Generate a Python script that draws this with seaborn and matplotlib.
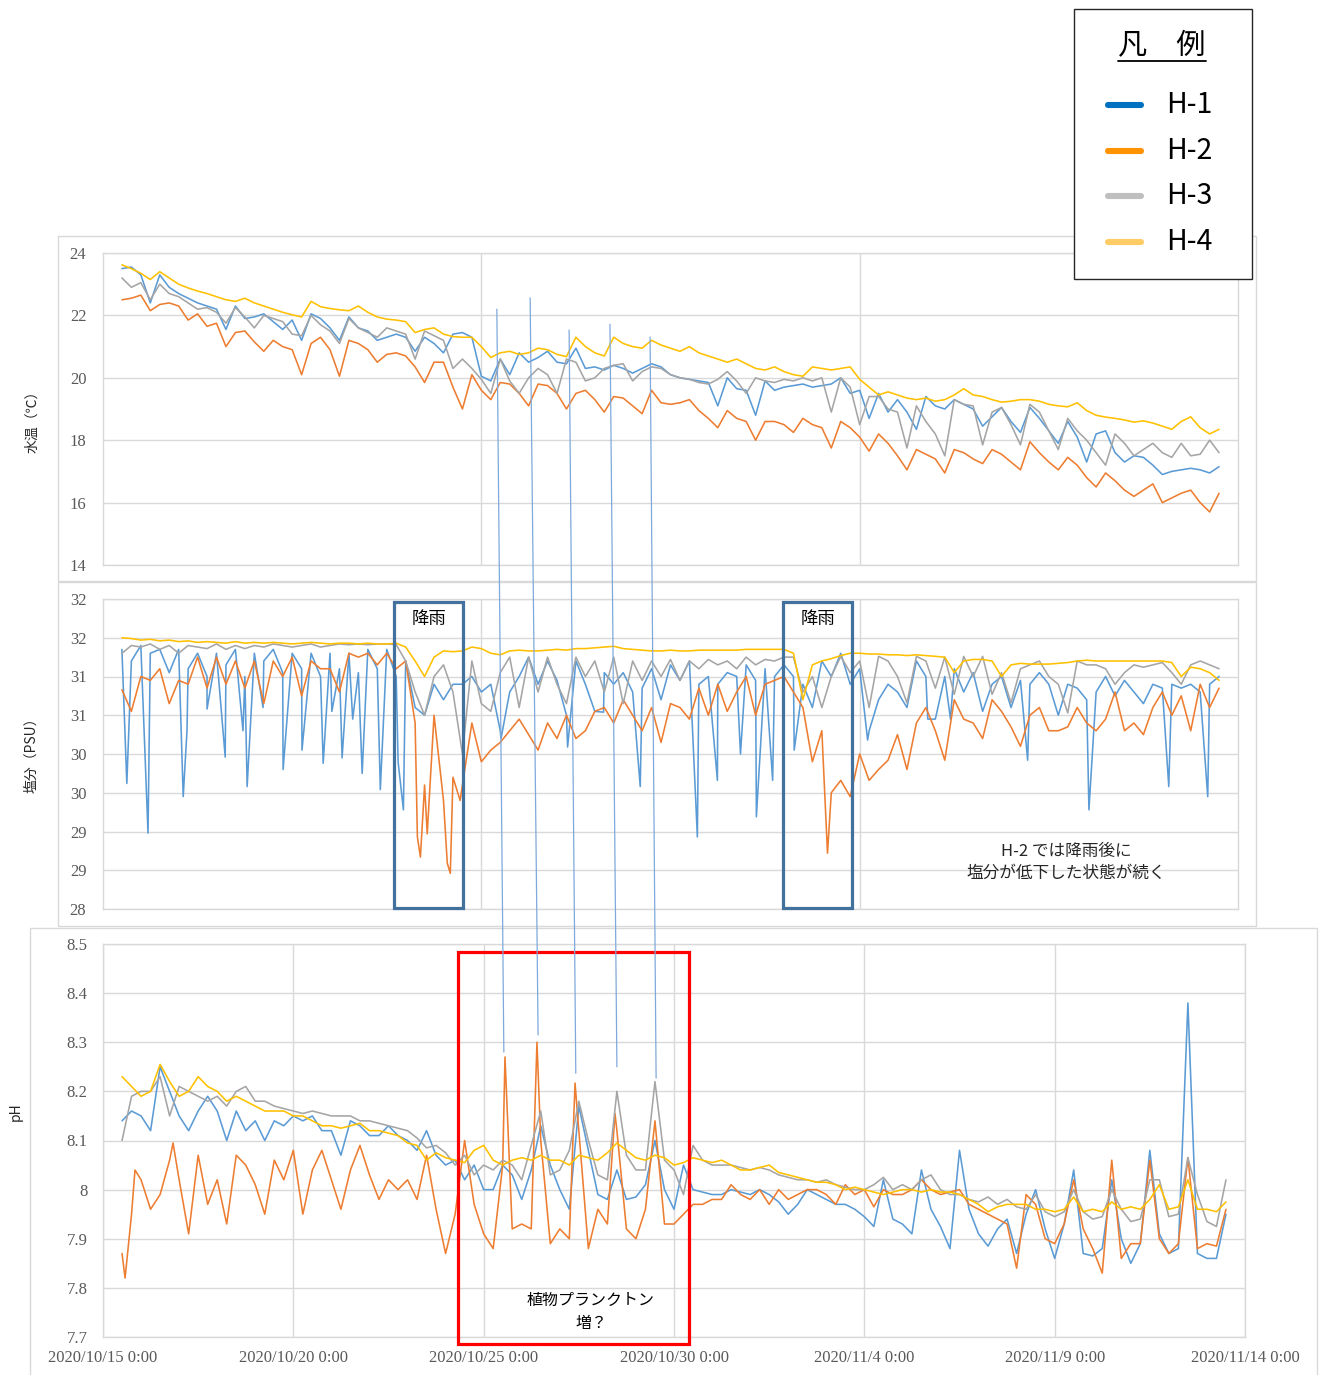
import numpy as np
import pandas as pd
import matplotlib
matplotlib.use("Agg")
import matplotlib.pyplot as plt
from matplotlib.patches import Rectangle, ConnectionPatch
from matplotlib.lines import Line2D
import seaborn as sns

# ---------------------------------------------------------------------------
# Continuous monitoring at stations H-1 .. H-4
# time axis: days since 2020/10/15 0:00, one reading every 6 hours
# (each row below = one day: +0.5, +0.75, +1.0, +1.25 d)
# ---------------------------------------------------------------------------
stations = ["H-1", "H-2", "H-3", "H-4"]
t_first, t_last, t_step = 0.5, 29.5, 0.25

temp_h1 = [23.5, 23.55, 23.3, 22.4,
           23.3, 22.9, 22.7, 22.55,
           22.4, 22.3, 22.2, 21.55,
           22.3, 21.9, 21.95, 22.05,
           21.8, 21.55, 21.85, 21.2,
           22.05, 21.9, 21.6, 21.2,
           21.95, 21.6, 21.5, 21.2,
           21.3, 21.4, 21.3, 20.85,
           21.3, 21.1, 20.8, 21.4,
           21.45, 21.3, 20.05, 19.9,
           20.6, 20.1, 20.8, 20.5,
           20.65, 20.85, 20.5, 20.45,
           20.95, 20.3, 20.35, 20.25,
           20.4, 20.3, 20.15, 20.3,
           20.45, 20.35, 20.1, 20.0,
           19.95, 19.9, 19.85, 19.1,
           20.0, 19.65, 19.6, 18.8,
           19.9, 19.6, 19.7, 19.75,
           19.8, 19.7, 19.75, 19.8,
           20.0, 19.5, 19.6, 18.7,
           19.5, 18.9, 19.3, 18.9,
           18.35, 19.4, 19.1, 19.0,
           19.3, 19.15, 19.0, 18.45,
           18.75, 19.05, 18.6, 18.25,
           19.05, 18.7, 18.3, 17.9,
           18.6, 18.1, 17.3, 18.2,
           18.3, 17.6, 17.3, 17.5,
           17.45, 17.2, 16.9, 17.0,
           17.05, 17.1, 17.05, 16.95,
           17.15]
temp_h2 = [22.5, 22.55, 22.65, 22.15,
           22.35, 22.4, 22.3, 21.85,
           22.05, 21.65, 21.75, 21.0,
           21.45, 21.5, 21.15, 20.85,
           21.2, 21.0, 20.9, 20.1,
           21.1, 21.3, 20.9, 20.05,
           21.2, 21.1, 20.9, 20.5,
           20.75, 20.8, 20.7, 20.35,
           19.85, 20.5, 20.5, 19.7,
           19.0, 20.1, 19.6, 19.3,
           19.85, 19.8, 19.5, 19.1,
           19.8, 19.75, 19.5, 19.0,
           19.5, 19.6, 19.3, 18.9,
           19.4, 19.35, 19.1, 18.85,
           19.6, 19.2, 19.15, 19.2,
           19.3, 18.95, 18.7, 18.4,
           18.95, 18.7, 18.6, 18.0,
           18.6, 18.6, 18.5, 18.25,
           18.7, 18.5, 18.4, 17.75,
           18.6, 18.4, 18.1, 17.65,
           18.2, 17.9, 17.5, 17.05,
           17.7, 17.55, 17.4, 16.95,
           17.7, 17.6, 17.4, 17.25,
           17.7, 17.55, 17.3, 17.05,
           17.95, 17.6, 17.3, 17.05,
           17.45, 17.2, 16.8, 16.5,
           16.95, 16.7, 16.4, 16.2,
           16.4, 16.6, 16.0, 16.15,
           16.3, 16.4, 16.0, 15.7,
           16.3]
temp_h3 = [23.2, 22.9, 23.05, 22.5,
           23.0, 22.7, 22.6, 22.4,
           22.2, 22.25, 22.1, 21.75,
           22.25, 21.95, 21.6, 22.0,
           21.9, 21.8, 21.4, 21.35,
           22.0, 21.7, 21.5, 21.1,
           21.9, 21.6, 21.45, 21.3,
           21.6, 21.5, 21.4, 20.6,
           21.5, 21.35, 21.2, 20.3,
           20.6, 20.3, 19.95, 19.5,
           20.6, 19.9, 19.5, 20.0,
           20.3, 20.1, 19.5, 20.6,
           20.5, 19.9, 20.0, 20.3,
           20.4, 20.45, 19.9, 20.2,
           20.35, 20.3, 20.1, 20.0,
           19.95, 19.85, 19.8, 19.95,
           20.2, 19.9, 19.5, 20.0,
           19.9, 19.85, 19.95, 19.9,
           20.0, 19.9, 20.0, 18.9,
           20.0, 19.7, 18.5, 19.4,
           19.4, 19.0, 18.9, 17.75,
           19.1, 18.6, 18.2, 17.5,
           19.3, 19.15, 19.1, 17.85,
           18.9, 19.05, 18.5, 17.85,
           19.15, 18.9, 18.3, 17.7,
           18.7, 18.3, 18.0, 17.6,
           17.2, 18.2, 17.9, 17.5,
           17.7, 17.9, 17.6, 17.45,
           17.9, 17.5, 17.55, 18.0,
           17.6]
temp_h4 = [23.62, 23.5, 23.35, 23.15,
           23.4, 23.2, 23.0, 22.88,
           22.78, 22.7, 22.6, 22.5,
           22.45, 22.55, 22.4, 22.3,
           22.2, 22.1, 22.02, 21.95,
           22.45, 22.28, 22.22, 22.18,
           22.15, 22.3, 22.1, 21.95,
           21.88, 21.85, 21.8, 21.45,
           21.55, 21.6, 21.4, 21.32,
           21.3, 21.3, 21.0, 20.65,
           20.8, 20.85, 20.75, 20.8,
           20.95, 20.9, 20.75, 20.68,
           21.3, 21.0, 20.8, 20.7,
           21.3, 21.1, 21.0, 20.95,
           21.2, 21.05, 20.95, 20.85,
           21.0, 20.8, 20.7, 20.6,
           20.5, 20.6, 20.45, 20.3,
           20.25, 20.35, 20.2, 20.1,
           20.05, 20.35, 20.3, 20.25,
           20.3, 20.35, 19.95, 19.7,
           19.45, 19.55, 19.45, 19.35,
           19.3, 19.35, 19.25, 19.3,
           19.45, 19.65, 19.45, 19.4,
           19.3, 19.22, 19.25, 19.3,
           19.3, 19.25, 19.15, 19.1,
           19.07, 19.2, 18.95, 18.8,
           18.74, 18.7, 18.65, 18.58,
           18.62, 18.55, 18.45, 18.35,
           18.6, 18.75, 18.4, 18.2,
           18.35]

sal_h1 = [31.35, 31.2, 31.4, 31.3,
          31.35, 31.05, 31.35, 31.1,
          31.3, 31.0, 31.3, 31.15,
          31.35, 31.0, 31.3, 31.2,
          31.35, 31.05, 31.3, 31.1,
          31.3, 31.0, 31.3, 31.1,
          31.3, 31.05, 31.35, 31.1,
          31.35, 31.0, 31.2, 30.6,
          30.5, 30.9, 30.7, 30.9,
          30.9, 31.0, 30.8, 30.9,
          30.3, 30.8, 31.0, 31.25,
          30.9, 31.2, 30.95, 30.5,
          31.2, 30.9, 30.55, 31.05,
          30.9, 31.05, 30.8, 30.85,
          31.1, 30.7, 31.15, 30.95,
          31.2, 30.9, 31.0, 30.9,
          31.05, 31.0, 31.15, 30.95,
          31.1, 31.0, 31.15, 31.0,
          30.9, 30.6, 31.2, 31.0,
          31.3, 30.9, 31.1, 30.3,
          30.7, 30.9, 30.8, 30.6,
          31.2, 31.0, 30.45, 31.0,
          31.1, 30.8, 31.05, 30.55,
          30.9, 31.0, 30.6, 30.95,
          30.9, 31.05, 30.9, 30.5,
          30.9, 30.85, 30.7, 30.8,
          31.0, 30.75, 30.95, 30.8,
          30.65, 30.9, 30.85, 30.9,
          30.85, 30.9, 30.8, 30.9,
          31.0]
# short salinity drops recorded between the 6-hourly readings
sal_h1_drop_t = [0.63, 1.19, 2.12, 2.22, 2.75, 3.23, 3.7, 3.81, 4.23, 4.76,
                 5.26, 5.82, 6.05, 6.32, 6.6, 6.85, 7.33, 7.8, 7.94, 10.52,
                 12.28, 13.23, 14.2, 15.71, 16.24, 16.85, 17.27, 17.7, 18.27,
                 20.21, 21.8, 22.4, 24.44, 26.06, 28.17, 29.2]
sal_h1_drop_v = [29.62, 28.98, 29.45, 30.3, 30.58, 29.96, 30.3, 29.58, 30.6, 29.8,
                 30.05, 29.88, 30.55, 29.95, 30.45, 29.75, 29.54, 29.9, 29.28, 30.2,
                 30.09, 30.54, 29.58, 28.93, 29.66, 30.0, 29.19, 29.66, 30.05,
                 30.18, 30.45, 30.45, 29.92, 29.28, 29.58, 29.45]

sal_h2 = [30.83, 30.55, 31.0, 30.95,
          31.1, 30.65, 30.95, 30.9,
          31.25, 30.85, 31.25, 30.9,
          31.2, 30.85, 31.2, 30.65,
          31.2, 31.0, 31.25, 30.75,
          31.2, 31.1, 31.1, 30.8,
          31.3, 31.25, 31.3, 31.15,
          31.3, 31.1, 31.2, 30.4,
          29.6, 30.5, 29.4, 29.7,
          29.6, 30.4, 29.9, 30.05,
          30.15, 30.3, 30.45, 30.25,
          30.05, 30.4, 30.2, 30.5,
          30.2, 30.3, 30.55, 30.6,
          30.4, 30.7, 30.5, 30.3,
          30.6, 30.15, 30.65, 30.6,
          30.45, 30.85, 30.5, 30.9,
          30.55, 30.8, 31.0, 30.5,
          30.9, 30.95, 31.0, 30.8,
          30.6, 29.9, 30.3, 29.5,
          29.66, 29.45, 30.0, 29.66,
          29.8, 29.92, 30.25, 29.8,
          30.4, 30.6, 30.3, 29.92,
          30.7, 30.45, 30.4, 30.2,
          30.7, 30.55, 30.35, 30.1,
          30.5, 30.6, 30.3, 30.3,
          30.35, 30.6, 30.4, 30.3,
          30.45, 30.8, 30.3, 30.4,
          30.25, 30.6, 30.8, 30.5,
          30.75, 30.3, 30.9, 30.6,
          30.85]
sal_h2_drop_t = [8.31, 8.39, 8.57, 9.1, 9.18, 9.44, 19.15]
sal_h2_drop_v = [28.93, 28.67, 28.97, 28.59, 28.46, 29.4, 28.72]

sal_h3 = [31.3, 31.4, 31.38, 31.42,
          31.35, 31.4, 31.3, 31.4,
          31.38, 31.36, 31.42, 31.35,
          31.4, 31.36, 31.4, 31.38,
          31.42, 31.4, 31.38, 31.4,
          31.42, 31.38, 31.4, 31.42,
          31.41, 31.42, 31.41, 31.42,
          31.42, 31.41, 31.2, 30.8,
          30.5, 31.0, 31.15, 30.8,
          30.0, 31.2, 30.65, 30.55,
          31.05, 31.25, 30.6, 31.25,
          30.8, 31.25, 30.9, 30.65,
          31.25, 31.0, 31.2, 30.8,
          31.25, 30.65, 31.2, 30.95,
          31.2, 31.0, 31.22, 30.95,
          31.2, 31.1, 31.22, 31.15,
          31.2, 31.1, 31.25, 31.15,
          31.22, 31.2, 31.25, 31.25,
          30.8, 31.0, 30.6, 31.0,
          31.26, 31.05, 31.2, 30.6,
          31.26, 31.2, 31.0, 30.66,
          31.26, 31.2, 30.85, 31.25,
          30.77, 31.26, 31.0, 31.26,
          30.77, 31.05, 30.66, 31.1,
          31.15, 31.2, 31.0, 30.9,
          30.53, 31.2, 31.15, 31.15,
          31.1, 30.9, 31.05, 31.15,
          31.12, 31.15, 31.18, 31.05,
          30.9, 31.15, 31.2, 31.15,
          31.1]
sal_h4 = [31.5, 31.49, 31.47, 31.48,
          31.46, 31.47, 31.45, 31.46,
          31.44, 31.45, 31.44, 31.43,
          31.45, 31.43, 31.44, 31.43,
          31.44, 31.43, 31.42, 31.43,
          31.44, 31.43, 31.42, 31.43,
          31.43, 31.42, 31.43, 31.42,
          31.42, 31.43, 31.38, 31.2,
          31.0, 31.25, 31.33, 31.32,
          31.33, 31.38, 31.36, 31.3,
          31.28, 31.33, 31.34, 31.33,
          31.33, 31.34, 31.35, 31.34,
          31.36, 31.36, 31.37, 31.38,
          31.39, 31.36, 31.35, 31.34,
          31.33, 31.33, 31.34, 31.33,
          31.33, 31.34, 31.34, 31.34,
          31.34, 31.34, 31.35, 31.35,
          31.35, 31.35, 31.35, 31.3,
          30.7, 31.15, 31.2, 31.23,
          31.27, 31.3, 31.3, 31.29,
          31.29, 31.28, 31.28, 31.27,
          31.28, 31.27, 31.26, 31.25,
          31.05, 31.2, 31.22, 31.22,
          31.2, 31.0, 31.15, 31.17,
          31.16, 31.16, 31.16, 31.17,
          31.18, 31.2, 31.21, 31.2,
          31.2, 31.2, 31.2, 31.2,
          31.2, 31.2, 31.2, 31.18,
          31.0, 31.12, 31.1, 31.05,
          30.95]

ph_h1 = [8.14, 8.16, 8.15, 8.12,
         8.25, 8.2, 8.15, 8.12,
         8.16, 8.19, 8.16, 8.1,
         8.16, 8.12, 8.14, 8.1,
         8.14, 8.13, 8.15, 8.14,
         8.15, 8.12, 8.12, 8.07,
         8.14, 8.13, 8.11, 8.11,
         8.13, 8.11, 8.1, 8.08,
         8.12, 8.07, 8.05, 8.06,
         8.02, 8.05, 8.0, 8.0,
         8.05, 8.03, 7.98, 8.04,
         8.13, 8.05, 8.0, 7.96,
         8.17, 8.08, 7.99, 7.98,
         8.04, 7.98, 7.985, 8.01,
         8.1, 8.0, 7.96, 8.05,
         8.0, 7.995, 7.99, 7.99,
         8.0, 7.995, 7.99, 8.0,
         7.99, 7.975, 7.95, 7.97,
         8.0, 7.99, 7.98, 7.97,
         7.97, 7.96, 7.945, 7.925,
         8.02, 7.94, 7.93, 7.91,
         8.04, 7.96, 7.925, 7.88,
         8.08, 7.96, 7.91, 7.885,
         7.92, 7.94, 7.87, 7.95,
         8.0, 7.92, 7.86, 7.93,
         8.04, 7.87, 7.865, 7.88,
         8.02, 7.9, 7.85, 7.89,
         8.08, 7.91, 7.87, 7.88,
         8.38, 7.87, 7.86, 7.86,
         7.95]
ph_h2 = [7.87, 7.95, 8.02, 7.96,
         7.99, 8.06, 8.02, 7.91,
         8.07, 7.97, 8.02, 7.93,
         8.07, 8.05, 8.01, 7.95,
         8.06, 8.02, 8.08, 7.95,
         8.04, 8.08, 8.02, 7.96,
         8.04, 8.09, 8.03, 7.98,
         8.02, 8.0, 8.02, 7.98,
         8.07, 7.96, 7.87, 7.95,
         8.1, 7.97, 7.91, 7.88,
         8.05, 7.92, 7.93, 7.92,
         8.1, 7.89, 7.92, 7.9,
         8.12, 7.88, 7.96, 7.93,
         8.12, 7.92, 7.9, 7.96,
         8.14, 7.93, 7.93, 7.95,
         7.97, 7.97, 7.98, 7.98,
         8.01, 7.99, 7.98, 8.0,
         7.97, 8.0, 7.98, 7.99,
         8.0, 8.0, 7.99, 7.97,
         8.01, 7.99, 8.0, 7.965,
         8.0, 7.99, 7.99, 8.0,
         8.02, 8.0, 7.99, 7.995,
         8.0, 7.97, 7.96, 7.95,
         7.94, 7.93, 7.84, 7.99,
         7.97, 7.9, 7.89, 7.93,
         8.02, 7.92, 7.88, 7.83,
         8.06, 7.86, 7.89, 7.89,
         8.06, 7.9, 7.87, 7.89,
         8.065, 7.88, 7.89, 7.885,
         7.96]
# extra readings around the sharp daytime pH maxima at H-2
ph_h2_peak_t = [0.58, 0.84, 1.84, 10.56, 11.4, 12.4, 13.45]
ph_h2_peak_v = [7.82, 8.04, 8.095, 8.27, 8.3, 8.217, 8.155]

ph_h3 = [8.1, 8.19, 8.2, 8.2,
         8.23, 8.15, 8.21, 8.2,
         8.19, 8.18, 8.19, 8.17,
         8.2, 8.21, 8.18, 8.18,
         8.17, 8.165, 8.16, 8.155,
         8.16, 8.155, 8.15, 8.15,
         8.15, 8.14, 8.14, 8.135,
         8.13, 8.125, 8.12, 8.105,
         8.085, 8.09, 8.075, 8.05,
         8.07, 8.03, 8.05, 8.04,
         8.06, 8.05, 8.02, 8.09,
         8.16, 8.03, 8.04, 8.08,
         8.18, 8.1, 8.03, 8.02,
         8.2, 8.07, 8.04, 8.04,
         8.22, 8.06, 8.04, 7.99,
         8.09, 8.06, 8.05, 8.05,
         8.05, 8.045, 8.04, 8.045,
         8.04, 8.03, 8.025, 8.02,
         8.02, 8.015, 8.02, 8.01,
         8.005, 8.0, 8.0, 8.01,
         8.025, 8.0, 8.01, 8.0,
         8.02, 8.03, 8.0, 7.99,
         7.99, 7.98, 7.975, 7.985,
         7.97, 7.98, 7.965, 7.96,
         7.99, 7.955, 7.945, 7.955,
         8.0, 7.955, 7.94, 7.945,
         8.0, 7.96, 7.935, 7.94,
         8.02, 8.02, 7.945, 7.95,
         8.065, 7.99, 7.935, 7.925,
         8.02]
ph_h4 = [8.23, 8.21, 8.19, 8.2,
         8.255, 8.22, 8.19, 8.2,
         8.23, 8.21, 8.2, 8.18,
         8.19, 8.18, 8.17, 8.16,
         8.16, 8.16, 8.15, 8.15,
         8.14, 8.13, 8.13, 8.125,
         8.13, 8.135, 8.12, 8.12,
         8.115, 8.11, 8.095, 8.09,
         8.06, 8.075, 8.065, 8.06,
         8.055, 8.08, 8.09, 8.06,
         8.05, 8.06, 8.065, 8.06,
         8.07, 8.06, 8.06, 8.05,
         8.07, 8.065, 8.06, 8.075,
         8.095, 8.08, 8.065, 8.06,
         8.07, 8.065, 8.05, 8.055,
         8.065, 8.06, 8.055, 8.06,
         8.05, 8.04, 8.04, 8.045,
         8.05, 8.035, 8.03, 8.025,
         8.02, 8.015, 8.015, 8.01,
         8.0, 8.005, 8.0, 7.995,
         7.99, 7.995, 8.0, 8.0,
         7.995, 8.0, 7.995, 7.995,
         7.99, 7.98, 7.97, 7.955,
         7.965, 7.97, 7.97, 7.97,
         7.96, 7.96, 7.955, 7.96,
         7.985, 7.955, 7.96, 7.955,
         7.975, 7.96, 7.965, 7.96,
         7.98, 8.01, 7.96, 7.965,
         8.02, 7.96, 7.96, 7.955,
         7.975]

# axis ticks and labels
temp_ticks = [14, 16, 18, 20, 22, 24]
sal_ticks = [28.0, 28.5, 29.0, 29.5, 30.0, 30.5, 31.0, 31.5, 32.0]
sal_tick_labels = ["28", "29", "29", "30", "30", "31", "31", "32", "32"]
ph_ticks = [7.7, 7.8, 7.9, 8.0, 8.1, 8.2, 8.3, 8.4, 8.5]
ph_tick_labels = ["7.7", "7.8", "7.9", "8", "8.1", "8.2", "8.3", "8.4", "8.5"]
date_ticks = [0, 5, 10, 15, 20, 25, 30]
date_labels = ["2020/10/15 0:00", "2020/10/20 0:00", "2020/10/25 0:00",
               "2020/10/30 0:00", "2020/11/4 0:00", "2020/11/9 0:00",
               "2020/11/14 0:00"]

# ---------------------------------------------------------------------------
line_colors = {"H-1": "#5B9BD5", "H-2": "#ED7D31", "H-3": "#A5A5A5", "H-4": "#FFC000"}
key_colors = {"H-1": "#0070C0", "H-2": "#FF9200", "H-3": "#BFBFBF", "H-4": "#FFCC66"}
GRID = "#D9D9D9"
TICK = "#595959"
SERIF = ["Liberation Serif", "DejaVu Serif"]

sns.set_theme(style="white")
plt.rcParams["font.family"] = ["Noto Sans CJK JP", "DejaVu Sans"]

t_grid = np.arange(t_first, t_last + 1e-9, t_step)


def frame(series_by_station, extras=None):
    """Long-form table for one panel; extra readings are merged in time order."""
    extras = extras or {}
    parts = []
    for st in stations:
        t = np.asarray(t_grid, dtype=float)
        v = np.asarray(series_by_station[st], dtype=float)
        if st in extras:
            et, ev = extras[st]
            t = np.concatenate([t, et])
            v = np.concatenate([v, ev])
        order = np.argsort(t, kind="stable")
        parts.append(pd.DataFrame({"t": t[order], "v": v[order], "station": st}))
    return pd.concat(parts, ignore_index=True)


df_temp = frame({"H-1": temp_h1, "H-2": temp_h2, "H-3": temp_h3, "H-4": temp_h4})
df_sal = frame({"H-1": sal_h1, "H-2": sal_h2, "H-3": sal_h3, "H-4": sal_h4},
               {"H-1": (sal_h1_drop_t, sal_h1_drop_v), "H-2": (sal_h2_drop_t, sal_h2_drop_v)})
df_ph = frame({"H-1": ph_h1, "H-2": ph_h2, "H-3": ph_h3, "H-4": ph_h4},
              {"H-2": (ph_h2_peak_t, ph_h2_peak_v)})

W, H = 1322, 1375
fig = plt.figure(figsize=(W / 100, H / 100), dpi=100)
fig.patch.set_facecolor("white")


def fx(x):
    return x / W


def fy(y):
    return 1 - y / H


def add_axes(x0, y0, x1, y1):
    return fig.add_axes([fx(x0), fy(y1), fx(x1) - fx(x0), fy(y0) - fy(y1)])


# outer chart-area frames
for (x0, y0, x1, y1) in [(58, 236, 1256, 581), (58, 582, 1256, 926), (30, 928, 1317, 1380)]:
    fig.add_artist(Rectangle((fx(x0), fy(y1)), fx(x1) - fx(x0), fy(y0) - fy(y1),
                             transform=fig.transFigure, fill=False, ec=GRID, lw=1.0, zorder=0))

ax_t = add_axes(103, 253, 1238, 565)
ax_s = add_axes(103, 599, 1238, 909)
ax_p = add_axes(103, 944, 1245, 1337)

for ax, df in [(ax_t, df_temp), (ax_s, df_sal), (ax_p, df_ph)]:
    sns.lineplot(data=df, x="t", y="v", hue="station", hue_order=stations,
                 palette=line_colors, estimator=None, sort=False,
                 linewidth=1.15, legend=False, ax=ax)
    ax.set_xlim(0, 30)
    ax.set_xlabel("")
    ax.set_ylabel("")
    ax.set_facecolor("white")
    for s in ax.spines.values():
        s.set_visible(True)
        s.set_color(GRID)
        s.set_linewidth(1.0)
    ax.grid(True, color=GRID, lw=1.0)
    ax.set_axisbelow(True)
    ax.tick_params(length=0)

ax_t.set_ylim(14, 24)
ax_t.set_yticks(temp_ticks)
ax_t.set_yticklabels([str(v) for v in temp_ticks], fontfamily=SERIF, fontsize=12, color=TICK)
ax_t.set_xticks([10, 20])
ax_t.set_xticklabels([])
ax_t.tick_params(axis="y", pad=12)

ax_s.set_ylim(28, 32)
ax_s.set_yticks(sal_ticks)
ax_s.set_yticklabels(sal_tick_labels, fontfamily=SERIF, fontsize=12, color=TICK)
ax_s.set_xticks([10, 20])
ax_s.set_xticklabels([])
ax_s.tick_params(axis="y", pad=12)

ax_p.set_ylim(7.7, 8.5)
ax_p.set_yticks(ph_ticks)
ax_p.set_yticklabels(ph_tick_labels, fontfamily=SERIF, fontsize=12, color=TICK)
ax_p.set_xticks(date_ticks)
ax_p.set_xticklabels(date_labels, fontfamily=SERIF, fontsize=12, color=TICK)
ax_p.tick_params(axis="y", pad=11)
ax_p.tick_params(axis="x", pad=9)

# axis titles
fig.text(fx(32), fy(418), "水温（℃）", rotation=90, ha="center", va="center",
         fontsize=10, color="#262626")
fig.text(fx(31), fy(752), "塩分（PSU）", rotation=90, ha="center", va="center",
         fontsize=10, color="#262626")
fig.text(fx(16), fy(1112), "pH", rotation=90, ha="center", va="center",
         fontsize=10, color="#262626")

# rainfall events in the salinity record
RAIN = "#41719C"
for t0, t1 in [(7.69, 9.52), (17.98, 19.8)]:
    ax_s.add_patch(Rectangle((t0, 28.01), t1 - t0, 3.95, fill=False, ec=RAIN, lw=2.3,
                             clip_on=False, zorder=6))
    ax_s.text((t0 + t1) / 2, 31.74, "降雨", ha="center", va="center", fontsize=12.5,
              color="black", zorder=7)
ax_s.text(25.46, 28.6, "H-2 では降雨後に\n塩分が低下した状態が続く", ha="center", va="center",
          fontsize=12, color="#262626", linespacing=1.35, zorder=7)

# period of sharp daytime pH maxima
ax_p.add_patch(Rectangle((9.33, 7.686), 15.39 - 9.33, 8.484 - 7.686, fill=False,
                         ec="#FF0000", lw=2.3, clip_on=False, zorder=6))
ax_p.text(12.82, 7.751, "植物プランクトン\n増？", ha="center", va="center", fontsize=11.5,
          color="black", linespacing=1.45, zorder=7)

# connectors from the water-temperature record down to the pH maxima
connectors = [((10.41, 22.2), (10.53, 8.28)),
              ((11.29, 22.56), (11.43, 8.315)),
              ((12.32, 21.53), (12.42, 8.237)),
              ((13.40, 21.72), (13.50, 8.25)),
              ((14.46, 21.31), (14.53, 8.227))]
for a, b in connectors:
    fig.add_artist(ConnectionPatch(xyA=a, coordsA=ax_t.transData, xyB=b, coordsB=ax_p.transData,
                                   color="#7FA9DB", lw=0.9, zorder=8))

# legend box
fig.add_artist(Rectangle((fx(1074), fy(279)), fx(1252) - fx(1074), fy(9) - fy(279),
                         transform=fig.transFigure, fc="white", ec="#262626", lw=1.0, zorder=9))
fig.text(fx(1162), fy(46), "凡　例", ha="center", va="center", fontsize=21, color="black",
         zorder=10)
fig.add_artist(Line2D([fx(1118), fx(1206)], [fy(61), fy(61)], transform=fig.transFigure,
                      color="black", lw=1.3, zorder=10))
for st, yy in zip(stations, [105, 151, 196, 242]):
    fig.add_artist(Line2D([fx(1108), fx(1141)], [fy(yy), fy(yy)], transform=fig.transFigure,
                          color=key_colors[st], lw=4.4, solid_capstyle="round", zorder=10))
    fig.text(fx(1166), fy(yy), st, ha="left", va="center", fontsize=20.5, color="black",
             zorder=10)

fig.savefig("out.png", dpi=100, facecolor="white")
